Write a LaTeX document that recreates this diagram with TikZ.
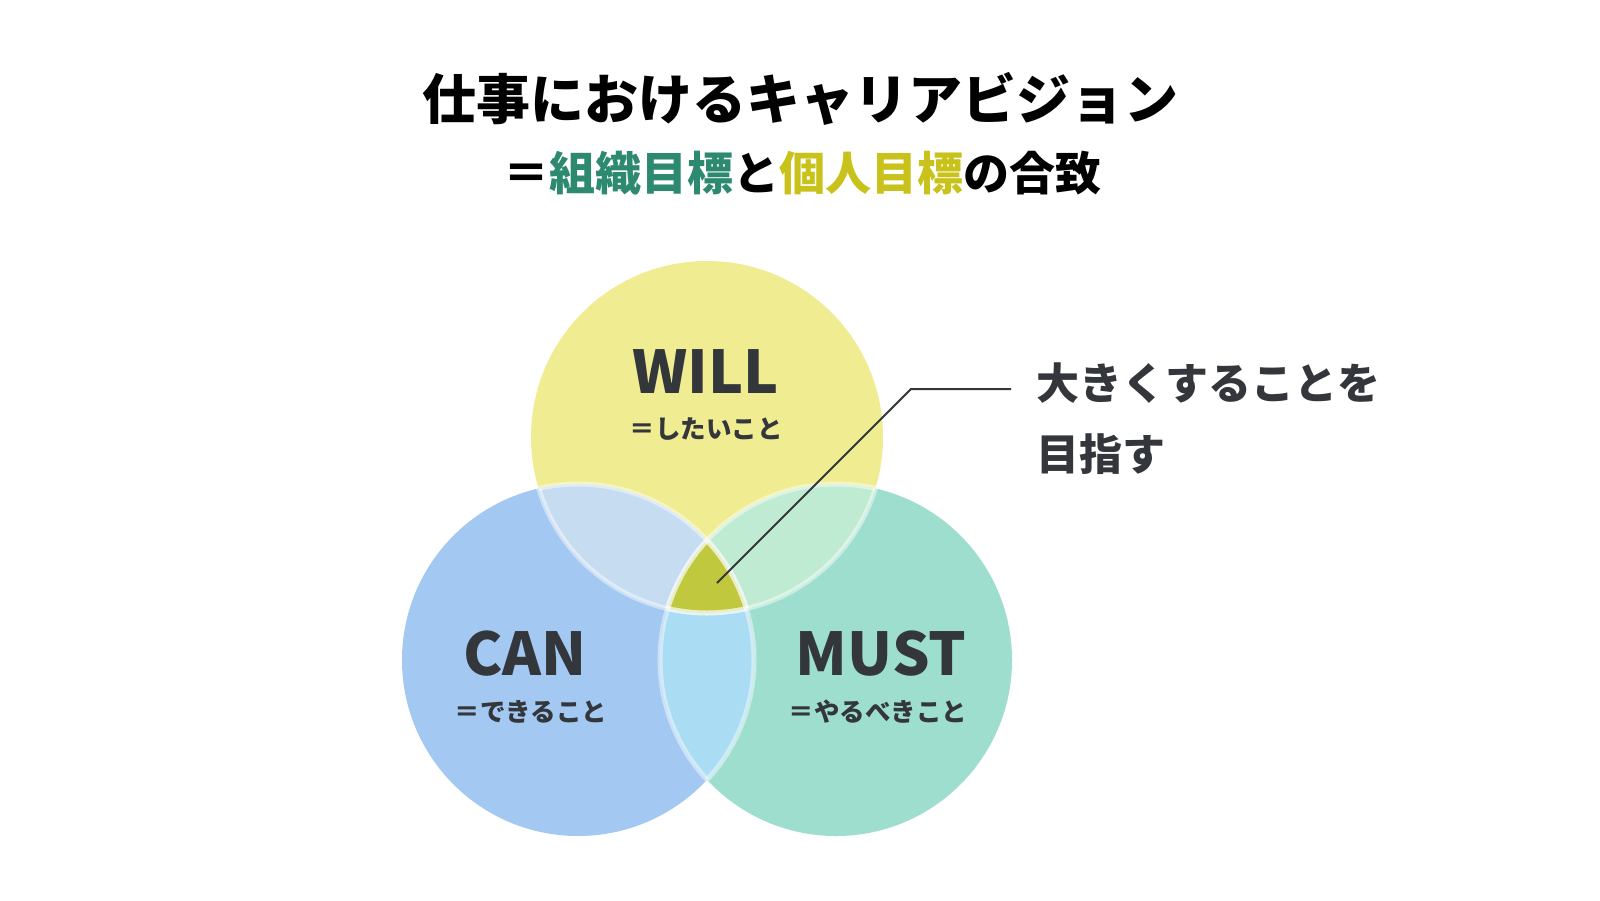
\documentclass[tikz,border=0pt]{standalone}
\usepackage{fontspec}
\setmainfont{Noto Sans CJK JP}
\usepackage{tikz}
\definecolor{ink}{HTML}{33363B}
\definecolor{orggreen}{HTML}{2D8A70}
\definecolor{selfolive}{HTML}{C8C21A}
\definecolor{willfill}{HTML}{F0EC91}
\definecolor{canfill}{HTML}{A3C8F1}
\definecolor{mustfill}{HTML}{9DDECF}
\definecolor{wcfill}{HTML}{C6DDF1}
\definecolor{wmfill}{HTML}{C0EBD3}
\definecolor{cmfill}{HTML}{AADCF4}
\definecolor{corefill}{HTML}{C0C93D}

\begin{document}
\begin{tikzpicture}[x=0.5pt,y=-0.5pt,
    big/.style={text=ink,inner sep=0pt,font=\bfseries\fontsize{29.5}{33}\selectfont},
    small/.style={text=ink,inner sep=0pt,font=\bfseries\fontsize{12.75}{15}\selectfont},
    note/.style={text=ink,inner sep=0pt,font=\bfseries\fontsize{21.5}{25}\selectfont},
    ring/.style={draw=white,draw opacity=0.45,line width=2.5pt}]
    \useasboundingbox[fill=white] (0,0) rectangle (1600,900);
    \node (title) at (800,119) [anchor=base,inner sep=0pt,font=\bfseries\fontsize{27}{30}\selectfont] {仕事におけるキャリアビジョン};
    \node (subtitle) at (802,190) [anchor=base,inner sep=0pt,font=\bfseries\fontsize{23}{26}\selectfont] {＝\textcolor{orggreen}{組織目標}と\textcolor{selfolive}{個人目標}の合致};

    \coordinate (W) at (707,437);
    \coordinate (C) at (578,660);
    \coordinate (M) at (836,660);
    \fill[canfill] (C) circle[radius=88pt];
    \fill[mustfill] (M) circle[radius=88pt];
    \fill[willfill] (W) circle[radius=88pt];
    \begin{scope}
      \clip (W) circle[radius=88pt];
      \fill[wcfill] (C) circle[radius=88pt];
      \fill[wmfill] (M) circle[radius=88pt];
    \end{scope}
    \begin{scope}
      \clip (C) circle[radius=88pt];
      \fill[cmfill] (M) circle[radius=88pt];
    \end{scope}
    \begin{scope}
      \clip (W) circle[radius=88pt];
      \clip (C) circle[radius=88pt];
      \fill[corefill] (M) circle[radius=88pt];
    \end{scope}
    \begin{scope}
      \clip (W) circle[radius=88pt];
      \draw[ring] (C) circle[radius=88pt];
      \draw[ring] (M) circle[radius=88pt];
    \end{scope}
    \begin{scope}
      \clip (C) circle[radius=88pt];
      \draw[ring] (W) circle[radius=88pt];
      \draw[ring] (M) circle[radius=88pt];
    \end{scope}
    \begin{scope}
      \clip (M) circle[radius=88pt];
      \draw[ring] (W) circle[radius=88pt];
      \draw[ring] (C) circle[radius=88pt];
    \end{scope}

    \node (will) at (706,393) [big,anchor=base] {WILL};
    \node (willsub) at (706,438) [small,anchor=base] {＝したいこと};
    \node (can) at (525,675) [big,anchor=base] {CAN};
    \node (cansub) at (531,721) [small,anchor=base] {＝できること};
    \node (must) at (881,675) [big,anchor=base] {MUST};
    \node (mustsub) at (878,721) [small,anchor=base] {＝やるべきこと};

    \coordinate (core) at (717,583);
    \coordinate (bend) at (911,389);
    \coordinate (tip) at (1011,389);
    \node (goal1) at (1036,399) [note,anchor=base west] {大きくすることを};
    \node (goal2) at (1036,470) [note,anchor=base west] {目指す};
    \draw[ink,line width=1pt] (core) -- (bend) -- (tip);
  \end{tikzpicture}
\end{document}
